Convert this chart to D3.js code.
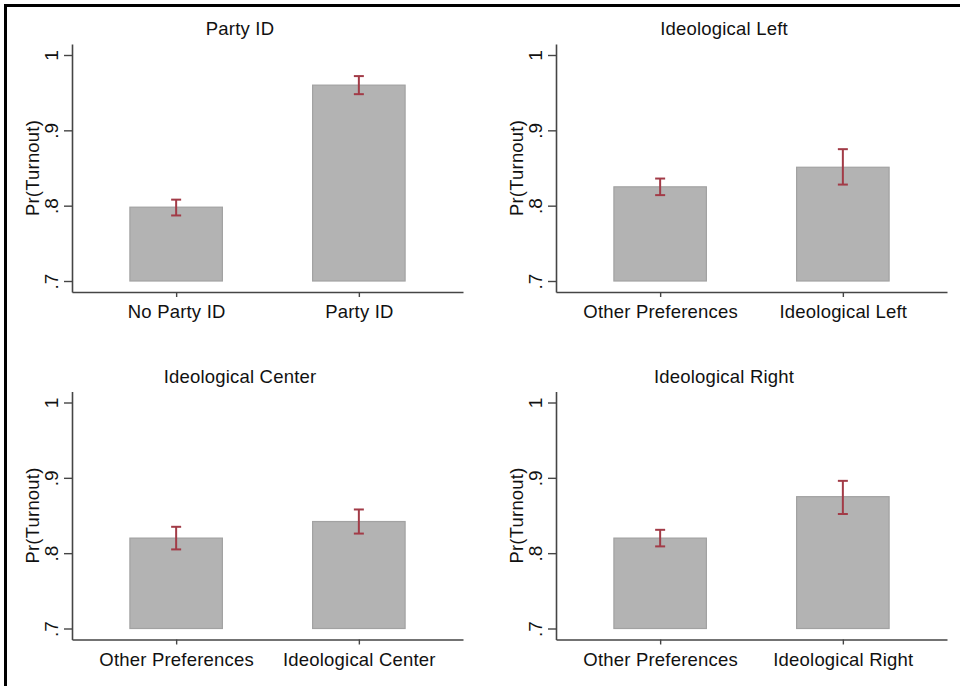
<!DOCTYPE html>
<html>
<head>
<meta charset="utf-8">
<script src="https://cdn.jsdelivr.net/npm/d3@7"></script>
<style>
  html, body { margin: 0; padding: 0; background: #fff; }
  svg { display: block; font-family: "Liberation Sans", Arial, Helvetica, sans-serif; }
</style>
</head>
<body>
<svg id="chart" width="960" height="686"></svg>
<script>
// Predicted turnout probabilities with confidence intervals, by group
const panelTitles = ["Party ID", "Ideological Left", "Ideological Center", "Ideological Right"];
const categories = [
  ["No Party ID", "Party ID"],
  ["Other Preferences", "Ideological Left"],
  ["Other Preferences", "Ideological Center"],
  ["Other Preferences", "Ideological Right"]
];
const estimates = [[0.798, 0.960], [0.825, 0.851], [0.820, 0.842], [0.820, 0.875]];
const ciLower   = [[0.787, 0.948], [0.814, 0.828], [0.805, 0.826], [0.809, 0.852]];
const ciUpper   = [[0.808, 0.972], [0.836, 0.875], [0.835, 0.858], [0.831, 0.896]];
const yTicks = [0.7, 0.8, 0.9, 1];
const yTickLabels = [".7", ".8", ".9", "1"];
const yLimits = [0.6854, 1.0146];
const barBase = 0.7;
const yTitle = "Pr(Turnout)";

const svg = d3.select("#chart");

// outer frame (left and top edges)
svg.append("path")
  .attr("d", "M5.5,686V5.5H960")
  .attr("fill", "none")
  .attr("stroke", "#000")
  .attr("stroke-width", 3);

const colOffset = [0, 484];
const rowOffset = [0, 347.5];
const axisLeftX = 72, axisRightX = 463;
const axisBottomY = 292, axisTopY = 44;
const barWidth = 92.5;
const fontSize = 18.5;
const letterSpacing = 0.2;
const axisColor = "#454545";

panelTitles.forEach((title, i) => {
  const g = svg.append("g")
    .attr("transform", `translate(${colOffset[i % 2]},${rowOffset[Math.floor(i / 2)]})`);

  const x = d3.scalePoint()
    .domain(categories[i])
    .range([axisLeftX, axisRightX])
    .padding(0.57);

  const y = d3.scaleLinear()
    .domain(yLimits)
    .range([axisBottomY, axisTopY]);

  // panel title
  g.append("text")
    .attr("x", 240)
    .attr("y", 35)
    .attr("text-anchor", "middle")
    .attr("font-size", fontSize)
    .attr("letter-spacing", letterSpacing)
    .attr("fill", "#111")
    .text(title);

  // y axis title
  g.append("text")
    .attr("transform", `translate(38.5,${(y(yTicks[0]) + y(yTicks[yTicks.length - 1])) / 2}) rotate(-90)`)
    .attr("text-anchor", "middle")
    .attr("font-size", fontSize)
    .attr("letter-spacing", letterSpacing)
    .attr("fill", "#111")
    .text(yTitle);

  // bars
  const rows = categories[i].map((c, j) => ({
    cat: c, est: estimates[i][j], lo: ciLower[i][j], hi: ciUpper[i][j]
  }));

  g.selectAll("rect.bar")
    .data(rows)
    .join("rect")
    .attr("class", "bar")
    .attr("x", d => x(d.cat) - barWidth / 2)
    .attr("width", barWidth)
    .attr("y", d => y(d.est))
    .attr("height", d => y(barBase) - y(d.est))
    .attr("fill", "#b3b3b3")
    .attr("stroke", "#a2a2a2")
    .attr("stroke-width", 1.2);

  // confidence intervals
  const ci = g.selectAll("g.ci")
    .data(rows)
    .join("g")
    .attr("class", "ci")
    .attr("stroke", "#a23b47")
    .attr("stroke-width", 2);
  ci.append("line")
    .attr("x1", d => x(d.cat)).attr("x2", d => x(d.cat))
    .attr("y1", d => y(d.lo)).attr("y2", d => y(d.hi));
  ci.append("line")
    .attr("x1", d => x(d.cat) - 5).attr("x2", d => x(d.cat) + 5)
    .attr("y1", d => y(d.lo)).attr("y2", d => y(d.lo));
  ci.append("line")
    .attr("x1", d => x(d.cat) - 5).attr("x2", d => x(d.cat) + 5)
    .attr("y1", d => y(d.hi)).attr("y2", d => y(d.hi));

  // y axis with rotated tick labels
  const ya = g.append("g")
    .attr("transform", `translate(${axisLeftX},0)`)
    .call(d3.axisLeft(y)
      .tickValues(yTicks)
      .tickFormat((d, k) => yTickLabels[k])
      .tickSize(8)
      .tickSizeOuter(0));
  ya.select(".domain").attr("stroke", axisColor).attr("stroke-width", 1.6);
  ya.selectAll(".tick line").attr("stroke", axisColor).attr("stroke-width", 1.4);
  ya.selectAll(".tick text")
    .attr("transform", "rotate(-90)")
    .attr("x", 0)
    .attr("y", -14.5)
    .attr("dy", 0)
    .attr("text-anchor", "middle")
    .attr("font-size", fontSize + 0.5)
    .attr("font-family", "Liberation Sans, Arial, sans-serif")
    .attr("fill", "#111");

  // x axis
  const xa = g.append("g")
    .attr("transform", `translate(0,${axisBottomY})`)
    .call(d3.axisBottom(x).tickSize(5).tickSizeOuter(0));
  xa.select(".domain").attr("stroke", axisColor).attr("stroke-width", 1.6);
  xa.selectAll(".tick line").attr("stroke", axisColor).attr("stroke-width", 1.4);
  xa.selectAll(".tick text")
    .attr("y", 26)
    .attr("dy", 0)
    .attr("font-size", fontSize)
    .attr("letter-spacing", letterSpacing)
    .attr("font-family", "Liberation Sans, Arial, sans-serif")
    .attr("fill", "#111");
});
</script>
</body>
</html>
